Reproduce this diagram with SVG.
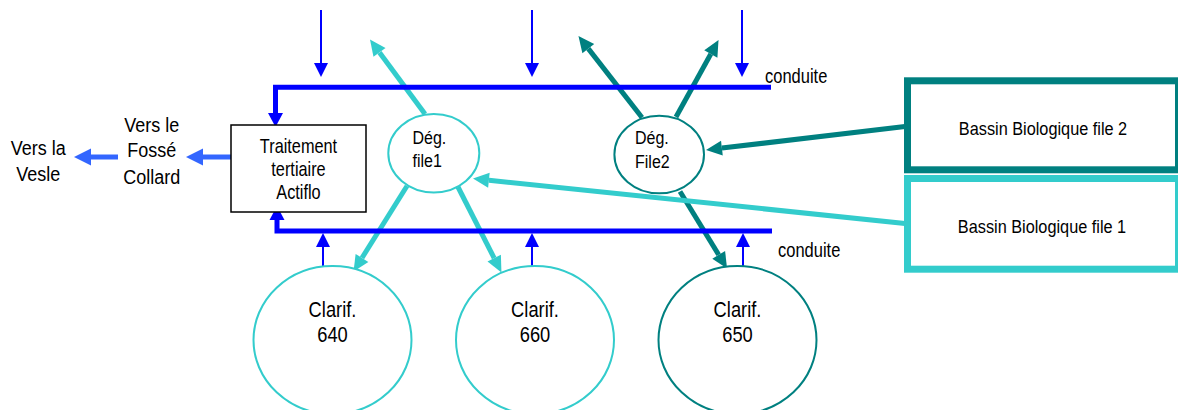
<svg xmlns="http://www.w3.org/2000/svg" width="1178" height="410" viewBox="0 0 1178 410">
<style>
.t{font-family:"Liberation Sans",Arial,sans-serif;fill:#000}
.c{text-anchor:middle}
.cyan{stroke:#33CCCC;stroke-width:5;fill:none}
.teal{stroke:#008080;stroke-width:5;fill:none}
.lb{stroke:#3366FF;stroke-width:5;fill:none}
.cond{stroke:#0000FF;stroke-width:5;fill:none;stroke-linejoin:miter}
.thin{stroke:#0000FF;stroke-width:2;fill:none}
</style>
<defs>
<marker id="mc" markerUnits="userSpaceOnUse" viewBox="0 -8 16 16" markerWidth="16" markerHeight="16" refX="0" refY="0" orient="auto" overflow="visible"><path d="M0,-7.5 L16,0 L0,7.5 z" fill="#33CCCC"/></marker>
<marker id="mt" markerUnits="userSpaceOnUse" viewBox="0 -8 16 16" markerWidth="16" markerHeight="16" refX="0" refY="0" orient="auto" overflow="visible"><path d="M0,-7.5 L16,0 L0,7.5 z" fill="#008080"/></marker>
<marker id="ml" markerUnits="userSpaceOnUse" viewBox="0 -9 17 18" markerWidth="17" markerHeight="18" refX="0" refY="0" orient="auto" overflow="visible"><path d="M0,-8.5 L17,0 L0,8.5 z" fill="#3366FF"/></marker>
<marker id="mb" markerUnits="userSpaceOnUse" viewBox="0 -8 14 16" markerWidth="14" markerHeight="16" refX="0" refY="0" orient="auto" overflow="visible"><path d="M0,-7.5 L14,0 L0,7.5 z" fill="#0000FF"/></marker>
<marker id="ms" markerUnits="userSpaceOnUse" viewBox="0 -7 14 14" markerWidth="14" markerHeight="14" refX="0" refY="0" orient="auto" overflow="visible"><path d="M0,-7 L14,0 L0,7 z" fill="#0000FF"/></marker>
</defs>

<g id="connectors">
<line class="cyan" x1="425" y1="114" x2="379.5" y2="52.4" marker-end="url(#mc)"/>
<line class="cyan" x1="407" y1="186" x2="362" y2="257.9" marker-end="url(#mc)"/>
<line class="cyan" x1="458" y1="187" x2="494.2" y2="258.2" marker-end="url(#mc)"/>
<line class="teal" x1="642" y1="117.5" x2="588.3" y2="48.6" marker-end="url(#mt)"/>
<line class="teal" x1="676" y1="117" x2="710.8" y2="54" marker-end="url(#mt)"/>
<line class="teal" x1="680" y1="191.5" x2="718.7" y2="254.8" marker-end="url(#mt)"/>
<line class="teal" x1="905" y1="126.5" x2="721.9" y2="148.1" marker-end="url(#mt)"/>
<line class="cyan" x1="905" y1="223.5" x2="488.9" y2="180.2" marker-end="url(#mc)"/>
<line class="lb" x1="231" y1="157" x2="203" y2="157" marker-end="url(#ml)"/>
<line class="lb" x1="118" y1="157" x2="91" y2="157" marker-end="url(#ml)"/>
<path class="cond" d="M771,87.3 H275.5 V113" marker-end="url(#mb)"/>
<path class="cond" d="M772,231 H277 V220" marker-end="url(#mb)"/>
<line class="thin" x1="321" y1="10" x2="321" y2="63" marker-end="url(#ms)"/>
<line class="thin" x1="532" y1="10" x2="532" y2="63" marker-end="url(#ms)"/>
<line class="thin" x1="742" y1="10" x2="742" y2="63" marker-end="url(#ms)"/>
<line class="thin" x1="323" y1="267" x2="323" y2="247" marker-end="url(#ms)"/>
<line class="thin" x1="532" y1="267" x2="532" y2="247" marker-end="url(#ms)"/>
<line class="thin" x1="743" y1="267" x2="743" y2="247" marker-end="url(#ms)"/>
</g>

<g id="label-conduite-top"><text class="t" font-size="16.5" transform="translate(765,82.7) scale(1,1.18)">conduite</text></g>
<g id="label-conduite-bottom"><text class="t" font-size="16.5" transform="translate(778,256.7) scale(1,1.18)">conduite</text></g>

<g id="actiflo">
<rect x="231" y="125" width="135" height="87" fill="#fff" stroke="#000" stroke-width="1.5"/>
<text class="t c" font-size="16.3" transform="translate(298.5,153.3) scale(1,1.22)">Traitement</text>
<text class="t c" font-size="16.3" transform="translate(298.5,176.3) scale(1,1.22)">tertiaire</text>
<text class="t c" font-size="16.3" transform="translate(298.5,199.3) scale(1,1.22)">Actiflo</text>
</g>

<g id="fosse-collard">
<text class="t c" font-size="18" transform="translate(151.7,131.7) scale(1,1.17)">Vers le</text>
<text class="t c" font-size="18" transform="translate(151.7,157) scale(1,1.17)">Fossé</text>
<text class="t c" font-size="18" transform="translate(151.7,183.5) scale(1,1.17)">Collard</text>
</g>

<g id="vesle">
<text class="t c" font-size="18" transform="translate(38.3,155) scale(1,1.17)">Vers la</text>
<text class="t c" font-size="18" transform="translate(38.3,180.5) scale(1,1.17)">Vesle</text>
</g>

<g id="deg-file1">
<ellipse cx="433.8" cy="153.2" rx="45.5" ry="39.2" fill="#fff" stroke="#33CCCC" stroke-width="2"/>
<text class="t" font-size="16" transform="translate(412.5,143.5) scale(1,1.17)">Dég.</text>
<text class="t" font-size="16" transform="translate(412.5,167) scale(1,1.17)">file1</text>
</g>

<g id="deg-file2">
<ellipse cx="659.2" cy="154.5" rx="44.8" ry="38.8" fill="#fff" stroke="#008080" stroke-width="2"/>
<text class="t" font-size="16" transform="translate(635,143.5) scale(1,1.17)">Dég.</text>
<text class="t" font-size="16" transform="translate(635,167.5) scale(1,1.17)">File2</text>
</g>

<g id="bassin-file2">
<rect x="907.5" y="80.8" width="271" height="89" fill="#fff" stroke="#008080" stroke-width="7"/>
<text class="t c" font-size="16.3" transform="translate(1043,135) scale(1,1.17)">Bassin Biologique file 2</text>
</g>

<g id="bassin-file1">
<rect x="907.5" y="178.5" width="271" height="90.7" fill="#fff" stroke="#33CCCC" stroke-width="7"/>
<text class="t c" font-size="16.3" transform="translate(1042,233) scale(1,1.17)">Bassin Biologique file 1</text>
</g>

<g id="clarif-640">
<ellipse cx="332.5" cy="340" rx="79" ry="74" fill="#fff" stroke="#33CCCC" stroke-width="2"/>
<text class="t c" font-size="18.3" transform="translate(332.5,316.7) scale(1,1.2)">Clarif.</text>
<text class="t c" font-size="18.3" transform="translate(332.5,341.7) scale(1,1.2)">640</text>
</g>

<g id="clarif-660">
<ellipse cx="535" cy="340" rx="79" ry="74" fill="#fff" stroke="#33CCCC" stroke-width="2"/>
<text class="t c" font-size="18.3" transform="translate(535,316.7) scale(1,1.2)">Clarif.</text>
<text class="t c" font-size="18.3" transform="translate(535,341.7) scale(1,1.2)">660</text>
</g>

<g id="clarif-650">
<ellipse cx="737.5" cy="340" rx="79" ry="74" fill="#fff" stroke="#008080" stroke-width="2"/>
<text class="t c" font-size="18.3" transform="translate(737.5,316.7) scale(1,1.2)">Clarif.</text>
<text class="t c" font-size="18.3" transform="translate(737.5,341.7) scale(1,1.2)">650</text>
</g>
</svg>
